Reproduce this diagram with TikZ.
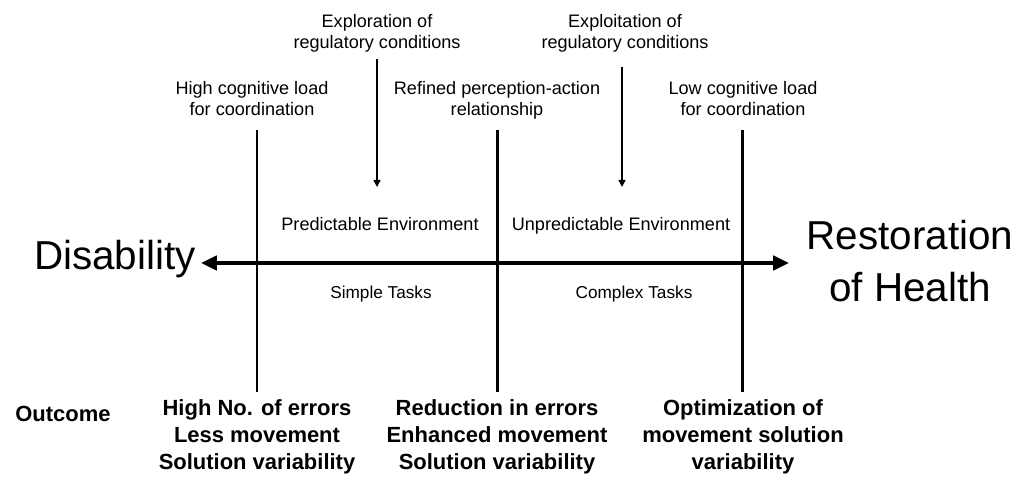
\documentclass[tikz,border=0pt]{standalone}
\usepackage{fontspec}
\setmainfont{Liberation Sans}
\usetikzlibrary{arrows.meta}

\begin{document}
\begin{tikzpicture}[x=0.02cm, y=-0.02cm,
  note/.style = {align=center, inner sep=0pt, anchor=north, font=\fontsize{10.3}{12}\selectfont},
  task/.style = {inner sep=0pt, anchor=base, font=\fontsize{9.8}{12}\selectfont},
  big/.style = {align=center, inner sep=0pt, font=\fontsize{23}{29.5}\selectfont},
  res/.style = {align=center, inner sep=0pt, font=\bfseries\fontsize{12.5}{15.3}\selectfont},
  bar/.style = {line width=1.7pt},
  axis/.style = {line width=2.3pt, {Triangle[length=9pt,width=8pt]}-{Triangle[length=9pt,width=8pt]}},
  down/.style = {line width=0.85pt, -{Triangle[length=4pt,width=4pt]}}]
		\useasboundingbox (0,0) rectangle (1020,479);
		
		% ends of the axis
		\node[big] (dis) at (115,259) {Disability};
		\node[big] (rest) at (910,261) {Restoration\\of Health};
		\coordinate (L) at (201,263);
		\coordinate (R) at (789,263);
		\draw[axis] (L) -- (R);
		
		% notes above
		\node[note] (explore) at (377,14) {Exploration of\\regulatory conditions};
		\node[note] (exploit) at (625,14) {Exploitation of\\regulatory conditions};
		\node[note] (high) at (252,81) {High cognitive load\\for coordination};
		\node[note] (refined) at (497,81) {Refined perception-action\\relationship};
		\node[note] (low) at (743,81) {Low cognitive load\\for coordination};
		
		\node[task, font=\fontsize{10.3}{12}\selectfont] (pred) at (380,231) {Predictable Environment};
		\node[task, font=\fontsize{10.3}{12}\selectfont] (unpred) at (621,231) {Unpredictable Environment};
		\node[task] (simple) at (381,298) {Simple Tasks};
		\node[task] (complex) at (634,298) {Complex Tasks};
		
		\coordinate (a1) at (377,187);
		\coordinate (a2) at (622,187);
		\draw[down] (a1 |- explore.south) ++(0,6) -- (a1);
		\draw[down] (a2 |- exploit.south) ++(0,14) -- (a2);
		
		% outcomes
		\node[res] (outcome) at (63,414) {Outcome};
		\node[res] (out1) at (257,437) {High No. of errors\\Less movement\\Solution variability};
		\node[res] (out2) at (497,437) {Reduction in errors\\Enhanced movement\\Solution variability};
		\node[res] (out3) at (743,437) {Optimization of\\movement solution\\variability};
		
		% stages
		\coordinate (t1) at (257,130); \coordinate (b1) at (257,392);
		\coordinate (t2) at (497,130); \coordinate (b2) at (497,392);
		\coordinate (t3) at (742,130); \coordinate (b3) at (742,392);
		\draw[bar] (t1) -- (b1);
		\draw[bar] (t2) -- (b2);
		\draw[bar] (t3) -- (b3);
	\end{tikzpicture}
\end{document}
